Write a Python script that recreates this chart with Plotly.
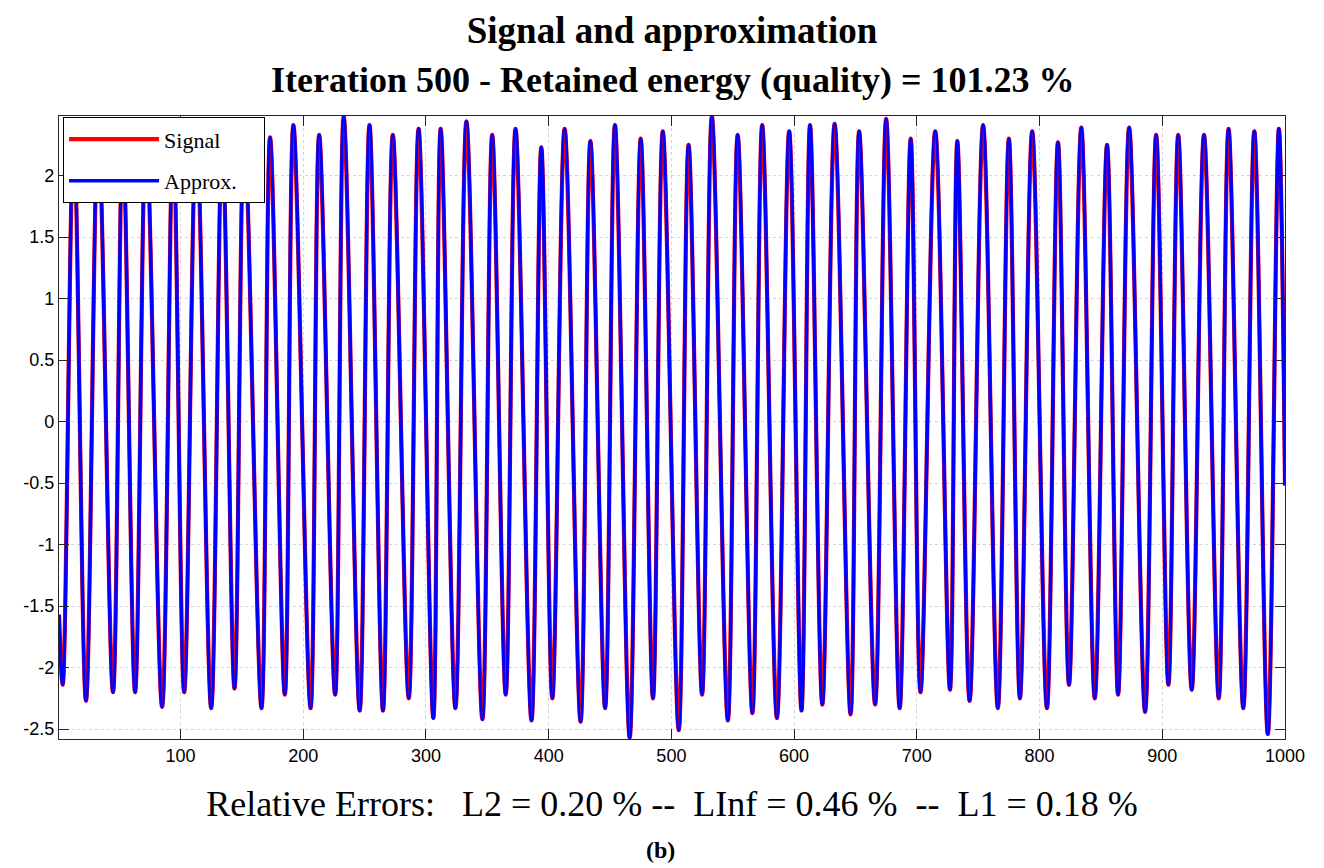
import plotly.graph_objects as go

# Sample index and amplitude of every local minimum / maximum of the signal
trough_n = [4, 23, 45, 63, 85, 103, 125, 144, 166, 185, 206, 226,
            246, 265, 286, 306, 324, 346, 365, 386, 403, 426, 446, 466,
            485, 506, 525, 546, 566, 586, 606, 623, 646, 666, 686, 703,
            727, 743, 766, 784, 806, 824, 845, 864, 886, 905, 924, 946, 966, 986]
trough_v = [-2.14, -2.27, -2.20, -2.20, -2.32, -2.20, -2.33, -2.17, -2.33, -2.22, -2.33, -2.22,
            -2.35, -2.35, -2.25, -2.41, -2.33, -2.42, -2.22, -2.43, -2.25, -2.44, -2.33, -2.57,
            -2.25, -2.51, -2.22, -2.43, -2.37, -2.41, -2.35, -2.30, -2.38, -2.30, -2.33, -2.20,
            -2.18, -2.27, -2.33, -2.25, -2.33, -2.14, -2.25, -2.22, -2.36, -2.14, -2.18, -2.25, -2.33, -2.54]
peak_n = [13, 33, 53, 72, 94, 113, 134, 152, 173, 192, 213, 233,
          254, 273, 294, 312, 333, 354, 373, 394, 413, 434, 454, 475,
          493, 514, 533, 554, 574, 596, 613, 633, 653, 675, 695, 715,
          733, 754, 775, 794, 815, 834, 855, 873, 895, 913, 934, 954, 975, 995]
peak_v = [2.30, 2.36, 2.28, 2.34, 2.31, 2.38, 2.29, 2.35, 2.31, 2.41, 2.33, 2.48,
          2.41, 2.33, 2.38, 2.38, 2.44, 2.33, 2.38, 2.23, 2.38, 2.28, 2.41, 2.30,
          2.36, 2.25, 2.48, 2.33, 2.41, 2.36, 2.41, 2.42, 2.36, 2.46, 2.30, 2.36,
          2.28, 2.41, 2.30, 2.36, 2.27, 2.39, 2.25, 2.39, 2.33, 2.33, 2.33, 2.38, 2.36, 2.38]
first_n, first_v = 1, -1.57
last_n, last_v = 1000, -0.52

x_ticks = [100, 200, 300, 400, 500, 600, 700, 800, 900, 1000]
y_ticks = [-2.5, -2, -1.5, -1, -0.5, 0, 0.5, 1, 1.5, 2]
y_ticktext = ["-2.5", "-2", "-1.5", "-1", "-0.5", "0", "0.5", "1", "1.5", "2"]

title_1 = "Signal and approximation"
title_2 = "Iteration 500 - Retained energy (quality) = 101.23 %"
errors_text = ("Relative Errors:\u00a0\u00a0 L2 = 0.20 %\u00a0--\u00a0 LInf = 0.46 %"
               "\u00a0\u00a0--\u00a0 L1 = 0.18 %")
panel_label = "(b)"

# Alternate minima and maxima into one ordered sequence
xs, ys = [first_n], [first_v]
for tn, tv, pn, pv in zip(trough_n, trough_v, peak_n, peak_v):
    xs += [tn, pn]
    ys += [tv, pv]
xs.append(last_n)
ys.append(last_v)

SERIF = "Liberation Serif"
SANS = "Liberation Sans"
PAD = "\u00a0" * 4  # extra room on the right of the legend box

fig = go.Figure()
fig.add_trace(go.Scatter(
    x=xs, y=ys, mode="lines", name="Signal" + PAD, legendgroup="s",
    line=dict(color="#ff0000", width=4.2, shape="spline", smoothing=1.0),
))
fig.add_trace(go.Scatter(
    x=xs, y=ys, mode="lines", name="Approx." + PAD, legendgroup="a",
    line=dict(color="#0000ff", width=3.5, shape="spline", smoothing=1.0),
))

axis_common = dict(
    showline=True, linecolor="#262626", linewidth=1.2, mirror="ticks",
    ticks="inside", ticklen=10, tickwidth=1.2, tickcolor="#262626",
    showgrid=True, gridcolor="#d4d4d4", griddash="dot", gridwidth=1,
    zeroline=False, tickfont=dict(family=SANS, size=18, color="black"),
)

fig.update_layout(
    width=1324, height=868,
    margin=dict(l=59, r=39, t=116, b=129),
    paper_bgcolor="white", plot_bgcolor="white",
    title=dict(text=f"<b>{title_1}</b>", x=0.5, xref="paper",
               y=1 - 30 / 868, yref="container", yanchor="middle",
               font=dict(family=SERIF, size=37, color="black")),
    xaxis=dict(range=[1, 1000], tickvals=x_ticks, **axis_common,
               title=dict(text=errors_text, standoff=26,
                          font=dict(family=SERIF, size=36, color="black"))),
    yaxis=dict(range=[-2.581, 2.484], tickvals=y_ticks, ticktext=y_ticktext,
               **axis_common),
    legend=dict(x=0.0033, y=0.998, xanchor="left", yanchor="top",
                bgcolor="white", bordercolor="black", borderwidth=1,
                font=dict(family=SERIF, size=22, color="black"),
                traceorder="grouped", tracegroupgap=10, itemwidth=90),
    showlegend=True,
    annotations=[
        dict(text=f"<b>{title_2}</b>", x=0.5, xref="paper", y=(739 - 80) / 623,
             yref="paper", yanchor="middle", showarrow=False,
             font=dict(family=SERIF, size=36, color="black")),
        dict(text=f"<b>{panel_label}</b>", x=(660 - 59) / 1226, xref="paper",
             y=(739 - 850) / 623, yref="paper", yanchor="middle", showarrow=False,
             font=dict(family=SERIF, size=24, color="black")),
    ],
)

fig.write_html("out.html")
